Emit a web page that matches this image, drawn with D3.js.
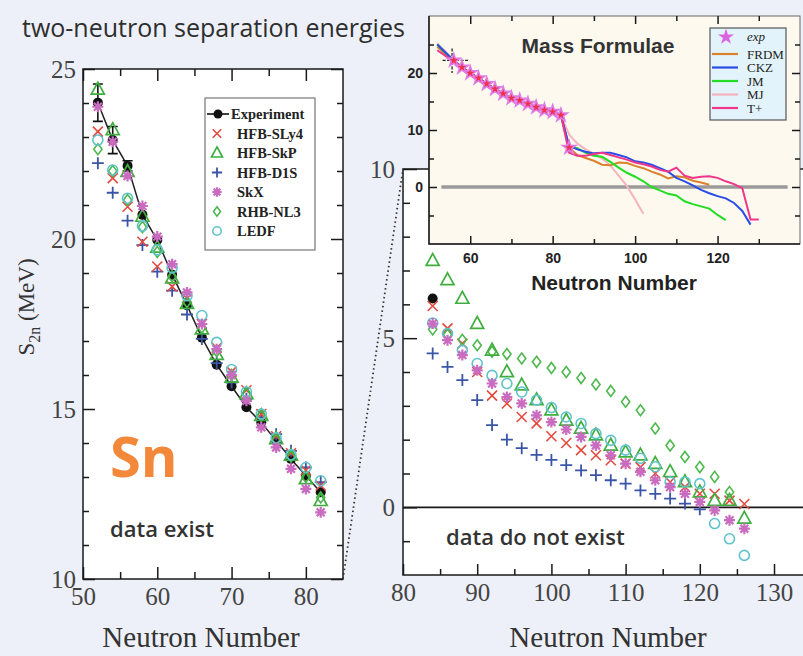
<!DOCTYPE html>
<html>
<head>
<meta charset="utf-8">
<script src="https://cdn.jsdelivr.net/npm/d3@7"></script>
<style>
  body { margin: 0; background: #edf0f8; }
  svg { display: block; }
</style>
</head>
<body>
<script>
// ---- left panel: Sn isotopes where data exist (S2n in MeV)
var nLeft = [52, 54, 56, 58, 60, 62, 64, 66, 68, 70, 72, 74, 76, 78, 80, 82];
var expLeft  = [24.01, 22.91, 22.15, 20.71, 19.97, 18.95, 18.05, 17.10, 16.30, 15.67, 15.05, 14.60, 14.07, 13.53, 13.04, 12.55];
var expErr   = [0.55, 0.40, 0.15, 0, 0, 0, 0, 0, 0, 0, 0, 0, 0, 0, 0, 0];
var sly4Left = [23.16, 21.79, 20.95, 19.92, 19.19, 18.60, 18.25, 17.50, 16.80, 16.10, 15.55, 14.85, 14.20, 13.70, 13.20, 12.75];
var skpLeft  = [24.40, 23.21, 21.98, 20.66, 19.75, 18.85, 18.10, 17.35, 16.60, 15.93, 15.44, 14.80, 14.12, 13.63, 12.94, 12.30];
var d1sLeft  = [22.23, 21.36, 20.54, 19.82, 19.04, 18.48, 17.78, 17.06, 16.35, 15.78, 15.30, 14.75, 14.26, 13.77, 13.28, 12.85];
var skxLeft  = [23.89, 22.86, 21.85, 20.97, 20.07, 19.26, 18.43, 17.50, 16.76, 16.00, 15.24, 14.46, 13.87, 13.24, 12.65, 11.96];
var nl3Left  = [22.64, 22.00, 21.15, 20.35, 19.62, 18.90, 18.15, 17.40, 16.70, 16.00, 15.45, 14.80, 14.10, 13.60, 13.00, 12.40];
var ledfLeft = [22.91, 22.03, 21.20, 20.38, 19.68, 19.15, 18.33, 17.75, 16.96, 16.16, 15.50, 14.85, 14.15, 13.65, 13.28, 12.89];

// ---- right panel: predictions where data do not exist
var nRight = [84, 86, 88, 90, 92, 94, 96, 98, 100, 102, 104, 106, 108, 110, 112, 114, 116, 118, 120, 122, 124, 126];
var nExpRight = [84];
var expRight = [6.17];
var sly4Right = [5.95, 5.29, 4.84, 4.00, 3.30, 3.07, 2.67, 2.48, 2.10, 1.90, 1.69, 1.54, 1.39, 1.29, 1.19, 1.00, 0.75, 0.60, 0.40, 0.40, 0.20, 0.10];
var skpRight  = [7.29, 6.72, 6.17, 5.43, 4.64, 4.00, 3.61, 3.17, 2.87, 2.57, 2.33, 2.13, 1.83, 1.63, 1.54, 1.29, 1.05, 0.75, 0.45, 0.20, 0.20, -0.33];
var d1sRight  = [4.55, 4.15, 3.76, 3.17, 2.43, 2.00, 1.75, 1.55, 1.40, 1.25, 1.09, 0.95, 0.80, 0.70, 0.50, 0.40, 0.26, 0.11, -0.06, null, null, null];
var skxRight  = [5.43, 4.94, 4.50, 4.05, 3.66, 3.26, 3.07, 2.72, 2.52, 2.30, 2.08, 1.83, 1.54, 1.29, 1.05, 0.80, 0.60, 0.40, 0.16, -0.09, -0.38, -0.63];
var nl3Right  = [5.26, 5.10, 4.95, 4.79, 4.60, 4.53, 4.40, 4.30, 4.12, 4.00, 3.82, 3.63, 3.44, 3.12, 2.87, 2.33, 1.83, 1.49, 1.19, 0.90, 0.45, null];
var ledfRight = [5.45, 5.14, 4.64, 4.25, 3.90, 3.66, 3.41, 3.17, 2.95, 2.67, 2.48, 2.18, 1.98, 1.69, 1.45, 1.20, 0.75, 0.75, 0.70, -0.48, -0.93, -1.42];

// ---- inset: mass formulae (every series starts at N = 52)
var nInset = [52, 54, 56, 58, 60, 62, 64, 66, 68, 70, 72, 74, 76, 78, 80, 82, 84, 86, 88, 90,
              92, 94, 96, 98, 100, 102, 104, 106, 108, 110, 112, 114, 116, 118, 120, 122, 124, 126, 128, 130];
var insetExpN = [56, 58, 60, 62, 64, 66, 68, 70, 72, 74, 76, 78, 80, 82, 84];
var insetExp  = [22.2, 21.0, 20.0, 19.1, 18.1, 17.2, 16.4, 15.6, 15.2, 14.6, 14.0, 13.5, 13.2, 12.6, 6.9];
var frdm = [24.6, 23.3, 22.2, 21.0, 20.0, 19.1, 18.1, 17.2, 16.4, 15.6, 15.2, 14.6, 14.0, 13.5, 13.2, 12.6,
            6.9, 5.6, 5.1, 4.6, 3.9, 3.8, 4.3, 4.2, 3.7, 3.3, 2.7, 2.2, 1.5, 1.9, 1.7, 1.1, 0.8, 0.4];
var ckz  = [25.0, 23.6, 22.2, 21.0, 20.0, 19.1, 18.1, 17.2, 16.4, 15.6, 15.2, 14.6, 14.0, 13.5, 13.2, 12.6,
            7.2, 6.6, 6.2, 5.9, 6.0, 6.0, 5.6, 5.2, 4.5, 4.3, 3.9, 3.3, 2.7, 1.6, 1.0, 0.3, -0.5, -1.1, -1.6, -2.0, -2.8, -4.2, -6.6];
var jm   = [25.0, 23.5, 22.2, 21.0, 20.0, 19.1, 18.1, 17.2, 16.4, 15.6, 15.2, 14.6, 14.0, 13.5, 13.2, 12.6,
            7.1, 6.8, 6.0, 5.5, 5.3, 4.4, 3.4, 2.5, 1.8, 1.0, 0.0, -0.6, -1.2, -1.5, -2.5, -3.0, -3.4, -3.8, -4.9, -5.8];
var mj   = [25.2, 23.8, 22.2, 21.0, 20.0, 19.1, 18.1, 17.2, 16.4, 15.6, 15.2, 14.6, 14.0, 13.5, 13.2, 12.6,
            9.2, 7.6, 6.6, 5.8, 5.0, 3.8, 2.0, 0.2, -2.2, -4.7];
var tplus = [24.0, 23.0, 22.2, 21.0, 20.0, 19.1, 18.1, 17.2, 16.4, 15.6, 15.2, 14.6, 14.0, 13.5, 13.2, 12.6,
             6.0, 5.5, 5.5, 5.8, 6.0, 5.6, 5.2, 4.8, 4.3, 4.0, 3.6, 3.0, 2.7, 3.4, 2.0, 1.6, 1.8, 1.9, 1.6, 1.0, 0.5, -0.2, -5.7, -5.7];

var modelNames = ["HFB-SLy4", "HFB-SkP", "HFB-D1S", "SkX", "RHB-NL3", "LEDF"];
var massNames = ["exp", "FRDM", "CKZ", "JM", "MJ", "T+"];

// ticks
var xLeftMajor = [50, 60, 70, 80], xLeftMinor = [55, 65, 75];
var yLeftMajor = [10, 15, 20, 25], yLeftMinor = [11, 12, 13, 14, 16, 17, 18, 19, 21, 22, 23, 24];
var xRightMajor = [80, 90, 100, 110, 120, 130], xRightMinor = [85, 95, 105, 115, 125];
var yRightMajor = [0, 5, 10], yRightMinor = [-1, 1, 2, 3, 4, 6, 7, 8, 9];
var xInsetMajor = [60, 80, 100, 120], xInsetMinor = [70, 90, 110, 130];
var yInsetMajor = [0, 10, 20], yInsetMinor = [-5, 5, 15, 25];

var serif = "'Liberation Serif', 'DejaVu Serif', serif";
var sans = "'Open Sans', 'DejaVu Sans', sans-serif";
var arial = "'Liberation Sans', Arial, sans-serif";

var svg = d3.select("body").append("svg").attr("width", 803).attr("height", 656);
svg.append("rect").attr("width", 803).attr("height", 656).attr("fill", "#edf0f8");

// scales
var xL = d3.scaleLinear().domain([50, 85]).range([83, 343]);
var yL = d3.scaleLinear().domain([10, 25]).range([579, 69]);
var xR = d3.scaleLinear().domain([80, 134]).range([403, 803.7]);
var yR = d3.scaleLinear().domain([-2, 10]).range([575, 169]);
var xI = d3.scaleLinear().domain([50, 140]).range([429, 800]);
var yI = d3.scaleLinear().domain([-10, 30]).range([244, 16]);

// marker shapes
function shape(type, s) {
  var p = d3.path();
  if (type === "x") { p.moveTo(-s, -s); p.lineTo(s, s); p.moveTo(-s, s); p.lineTo(s, -s); }
  else if (type === "plus") { p.moveTo(-s, 0); p.lineTo(s, 0); p.moveTo(0, -s); p.lineTo(0, s); }
  else if (type === "tri") { p.moveTo(0, -s * 1.1); p.lineTo(s, s * 0.72); p.lineTo(-s, s * 0.72); p.closePath(); }
  else if (type === "dia") { p.moveTo(0, -s); p.lineTo(s * 0.75, 0); p.lineTo(0, s); p.lineTo(-s * 0.75, 0); p.closePath(); }
  else if (type === "ast") {
    var d = s * 0.72;
    p.moveTo(-s, 0); p.lineTo(s, 0); p.moveTo(0, -s); p.lineTo(0, s);
    p.moveTo(-d, -d); p.lineTo(d, d); p.moveTo(-d, d); p.lineTo(d, -d);
  }
  else { p.moveTo(s, 0); p.arc(0, 0, s, 0, 2 * Math.PI); }
  return p.toString();
}

var styles = [
  {type: "x", color: "#e4493f", s: 5, w: 1.6},
  {type: "tri", color: "#3fae3f", s: 6.5, w: 1.7},
  {type: "plus", color: "#3b55a6", s: 6, w: 1.8},
  {type: "ast", color: "#c96cc0", s: 5.5, w: 2.2},
  {type: "dia", color: "#4db84d", s: 5.5, w: 1.6},
  {type: "o", color: "#5fc3cc", s: 5, w: 1.6}
];

function plotSeries(ns, vals, xs, ys, st) {
  var pts = ns.map(function(n, i) { return [n, vals[i]]; }).filter(function(d) { return d[1] != null; });
  svg.append("g").selectAll("path").data(pts).enter().append("path")
    .attr("transform", function(d) { return "translate(" + xs(d[0]) + "," + ys(d[1]) + ")"; })
    .attr("d", shape(st.type, st.s))
    .attr("fill", "none").attr("stroke", st.color).attr("stroke-width", st.w);
}

function ticks(axisFn, scale, vals, len, x0, y0, pad) {
  var ax = axisFn(scale).tickValues(vals).tickSize(len).tickPadding(pad || 7);
  if (!pad) ax.tickFormat(function() { return ""; });
  var g = svg.append("g").attr("transform", "translate(" + x0 + "," + y0 + ")").call(ax);
  g.select(".domain").remove();
  g.selectAll("line").attr("stroke", "#1a1a1a").attr("stroke-width", 1.5);
  return g;
}

function styleLabels(g, font, size, color, weight) {
  g.selectAll("text").style("font-family", font).style("font-size", size + "px")
    .style("font-weight", weight || "normal").attr("fill", color);
}

// title
svg.append("text").attr("x", 22).attr("y", 37).text("two-neutron separation energies")
  .style("font-family", sans).style("font-size", "25px").attr("fill", "#2e2e2e");

// ======== left panel ========
svg.append("rect").attr("x", xL(50)).attr("y", yL(25))
  .attr("width", xL(85) - xL(50)).attr("height", yL(10) - yL(25))
  .attr("fill", "#fff").attr("stroke", "#1a1a1a").attr("stroke-width", 1.5);

// experiment line + error bars + dots
svg.append("path").datum(nLeft.map(function(n, i) { return [n, expLeft[i]]; }))
  .attr("d", d3.line().x(function(d) { return xL(d[0]); }).y(function(d) { return yL(d[1]); }))
  .attr("fill", "none").attr("stroke", "#222").attr("stroke-width", 1.5);
nLeft.forEach(function(n, i) {
  if (!expErr[i]) return;
  var x = xL(n), y1 = yL(expLeft[i] - expErr[i]), y2 = yL(expLeft[i] + expErr[i]);
  svg.append("path").attr("d", "M" + x + "," + y1 + "V" + y2 + "M" + (x - 5) + "," + y1 + "h10M" + (x - 5) + "," + y2 + "h10")
    .attr("stroke", "#111").attr("stroke-width", 1.6).attr("fill", "none");
});
svg.append("g").selectAll("circle").data(nLeft).enter().append("circle")
  .attr("cx", function(d) { return xL(d); })
  .attr("cy", function(d, i) { return yL(expLeft[i]); })
  .attr("r", 5).attr("fill", "#111");

var leftVals = [sly4Left, skpLeft, d1sLeft, skxLeft, nl3Left, ledfLeft];
[2, 0, 4, 1, 5, 3].forEach(function(k) { plotSeries(nLeft, leftVals[k], xL, yL, styles[k]); });

styleLabels(ticks(d3.axisBottom, xL, xLeftMajor, -12, 0, yL(10), 8), serif, 25, "#444");
ticks(d3.axisBottom, xL, xLeftMinor, -7, 0, yL(10));
ticks(d3.axisTop, xL, xLeftMajor, -12, 0, yL(25));
ticks(d3.axisTop, xL, xLeftMinor, -7, 0, yL(25));
styleLabels(ticks(d3.axisLeft, yL, yLeftMajor, -12, xL(50), 0, 7), serif, 25, "#444");
ticks(d3.axisLeft, yL, yLeftMinor, -6, xL(50), 0);
ticks(d3.axisRight, yL, yLeftMajor, -12, xL(85), 0);
ticks(d3.axisRight, yL, yLeftMinor, -6, xL(85), 0);

// legend
var lg = svg.append("g");
lg.append("rect").attr("x", 205).attr("y", 98).attr("width", 110).attr("height", 152)
  .attr("fill", "#fff").attr("stroke", "#777").attr("stroke-width", 1.2);
lg.append("line").attr("x1", 207).attr("x2", 229).attr("y1", 114).attr("y2", 114).attr("stroke", "#111").attr("stroke-width", 1.6);
lg.append("circle").attr("cx", 218).attr("cy", 114).attr("r", 4.5).attr("fill", "#111");
lg.append("text").attr("x", 231).attr("y", 119).text("Experiment");
modelNames.forEach(function(name, i) {
  var y = 133.5 + i * 19.5, st = styles[i];
  lg.append("path").attr("transform", "translate(217," + y + ")").attr("d", shape(st.type, st.s * 0.85))
    .attr("fill", "none").attr("stroke", st.color).attr("stroke-width", st.w);
  lg.append("text").attr("x", 237).attr("y", y + 5).text(name);
});
lg.selectAll("text").style("font-family", serif).style("font-size", "14.5px").style("font-weight", "bold").attr("fill", "#222");

svg.append("text").attr("x", 110).attr("y", 477).text("Sn")
  .style("font-family", sans).style("font-weight", "bold").style("font-size", "56px").attr("fill", "#f3883a");
svg.append("text").attr("x", 110).attr("y", 537).text("data exist")
  .style("font-family", sans).style("font-weight", "600").style("font-size", "22px").attr("fill", "#333");

// ======== right panel ========
svg.append("rect").attr("x", xR(80)).attr("y", yR(10)).attr("width", 803 - xR(80)).attr("height", yR(-2) - yR(10))
  .attr("fill", "#fff");
svg.append("path").attr("d", "M803," + yR(10) + "H" + xR(80) + "V" + yR(-2) + "H803")
  .attr("fill", "none").attr("stroke", "#1a1a1a").attr("stroke-width", 1.5);
svg.append("line").attr("x1", xR(80)).attr("x2", 803).attr("y1", yR(0)).attr("y2", yR(0))
  .attr("stroke", "#1a1a1a").attr("stroke-width", 1.6);

svg.append("g").selectAll("circle").data(nExpRight).enter().append("circle")
  .attr("cx", function(d) { return xR(d); })
  .attr("cy", function(d, i) { return yR(expRight[i]); })
  .attr("r", 5).attr("fill", "#111");
var rightVals = [sly4Right, skpRight, d1sRight, skxRight, nl3Right, ledfRight];
[2, 0, 4, 1, 5, 3].forEach(function(k) { plotSeries(nRight, rightVals[k], xR, yR, styles[k]); });

styleLabels(ticks(d3.axisBottom, xR, xRightMajor, -11, 0, yR(-2), 8), serif, 25, "#444");
ticks(d3.axisBottom, xR, xRightMinor, -6, 0, yR(-2));
styleLabels(ticks(d3.axisLeft, yR, yRightMajor, -14, xR(80), 0, 8), serif, 25, "#444");
ticks(d3.axisLeft, yR, yRightMinor, -7, xR(80), 0);

svg.append("text").attr("x", 446).attr("y", 545).text("data do not exist")
  .style("font-family", sans).style("font-weight", "600").style("font-size", "22px").attr("fill", "#333");

// zoom connector
svg.append("line").attr("x1", xL(85)).attr("y1", yL(10)).attr("x2", xR(80)).attr("y2", yR(10))
  .attr("stroke", "#333").attr("stroke-width", 1.8).attr("stroke-dasharray", "1.5,3");

// ======== inset ========
svg.append("rect").attr("x", xI(50)).attr("y", yI(30)).attr("width", xI(140) - xI(50)).attr("height", yI(-10) - yI(30))
  .attr("fill", "#fdf9ef").attr("stroke", "#666").attr("stroke-width", 1);
svg.append("line").attr("x1", xI(53)).attr("x2", xI(137)).attr("y1", yI(0)).attr("y2", yI(0))
  .attr("stroke", "#9a9a9a").attr("stroke-width", 3.5);

var massVals = [frdm, ckz, jm, mj, tplus];
var massColors = ["#d9822b", "#2a4de8", "#22dd22", "#f7b3c0", "#f0368a"];
var lineI = d3.line().x(function(d) { return xI(d[0]); }).y(function(d) { return yI(d[1]); });
[3, 0, 2, 1, 4].forEach(function(k) {
  var pts = massVals[k].map(function(v, i) { return [nInset[i], v]; });
  svg.append("path").datum(pts).attr("d", lineI)
    .attr("fill", "none").attr("stroke", massColors[k]).attr("stroke-width", 2);
});

// exp error cross
svg.append("path").attr("d", "M" + xI(53.3) + "," + yI(22.2) + "H" + xI(59.8) + "M" + xI(55.6) + "," + yI(24.3) + "V" + yI(20))
  .attr("stroke", "#222").attr("stroke-width", 1.3).attr("stroke-dasharray", "3,1.5").attr("fill", "none");

var star = d3.symbol().type(d3.symbolStar);
svg.append("g").selectAll("path").data(insetExpN).enter().append("path")
  .attr("transform", function(d, i) { return "translate(" + xI(d) + "," + yI(insetExp[i]) + ")"; })
  .attr("d", star.size(100)()).attr("fill", "#df7de6");
svg.append("g").selectAll("path").data(insetExpN).enter().append("path")
  .attr("transform", function(d, i) { return "translate(" + xI(d) + "," + yI(insetExp[i]) + ")"; })
  .attr("d", star.size(22)()).attr("fill", "#f0304d");

svg.append("path").attr("d", "M" + xI(50) + "," + yI(30) + "V" + yI(-10) + "H" + xI(140))
  .attr("fill", "none").attr("stroke", "#1a1a1a").attr("stroke-width", 1.5);
styleLabels(ticks(d3.axisBottom, xI, xInsetMajor, -8, 0, yI(-10), 9), arial, 14, "#222", "bold");
ticks(d3.axisBottom, xI, xInsetMinor, -5, 0, yI(-10));
ticks(d3.axisTop, xI, xInsetMajor, -8, 0, yI(30));
ticks(d3.axisTop, xI, xInsetMinor, -5, 0, yI(30));
styleLabels(ticks(d3.axisLeft, yI, yInsetMajor, -8, xI(50), 0, 6), arial, 14, "#222", "bold");
ticks(d3.axisLeft, yI, yInsetMinor, -5, xI(50), 0);
ticks(d3.axisRight, yI, yInsetMajor, -8, xI(140), 0);
ticks(d3.axisRight, yI, yInsetMinor, -5, xI(140), 0);

// inset legend
var il = svg.append("g");
il.append("rect").attr("x", 710).attr("y", 28).attr("width", 76).attr("height", 92)
  .attr("fill", "#e2f3fb").attr("stroke", "#555").attr("stroke-width", 1.2);
il.append("path").attr("transform", "translate(726,37)").attr("d", star.size(80)()).attr("fill", "#d965e0");
il.append("text").attr("x", 747).attr("y", 41).text(massNames[0]).style("font-style", "italic");
massColors.forEach(function(c, i) {
  var y = 54 + i * 13.5;
  il.append("line").attr("x1", 712).attr("x2", 738).attr("y1", y).attr("y2", y).attr("stroke", c).attr("stroke-width", 2.2);
  il.append("text").attr("x", 747).attr("y", y + 4.5).text(massNames[i + 1]);
});
il.selectAll("text").style("font-family", serif).style("font-size", "13px").attr("fill", "#222");

svg.append("text").attr("x", 598).attr("y", 53).attr("text-anchor", "middle").text("Mass Formulae")
  .style("font-family", arial).style("font-weight", "bold").style("font-size", "21px").attr("fill", "#333");
svg.append("text").attr("x", 614).attr("y", 290).attr("text-anchor", "middle").text("Neutron Number")
  .style("font-family", arial).style("font-weight", "bold").style("font-size", "21px").attr("fill", "#222");

// ======== axis titles ========
svg.append("text").attr("x", 201).attr("y", 647).attr("text-anchor", "middle").text("Neutron Number")
  .style("font-family", serif).style("font-size", "29px").attr("fill", "#333");
svg.append("text").attr("x", 608).attr("y", 647).attr("text-anchor", "middle").text("Neutron Number")
  .style("font-family", serif).style("font-size", "29px").attr("fill", "#333");
var yt = svg.append("text").attr("transform", "translate(34,307) rotate(-90)").attr("text-anchor", "middle")
  .style("font-family", serif).style("font-size", "23px").attr("fill", "#333");
yt.append("tspan").text("S");
yt.append("tspan").attr("dy", 6).style("font-size", "16px").text("2n");
yt.append("tspan").attr("dy", -6).text(" (MeV)");
</script>
</body>
</html>
